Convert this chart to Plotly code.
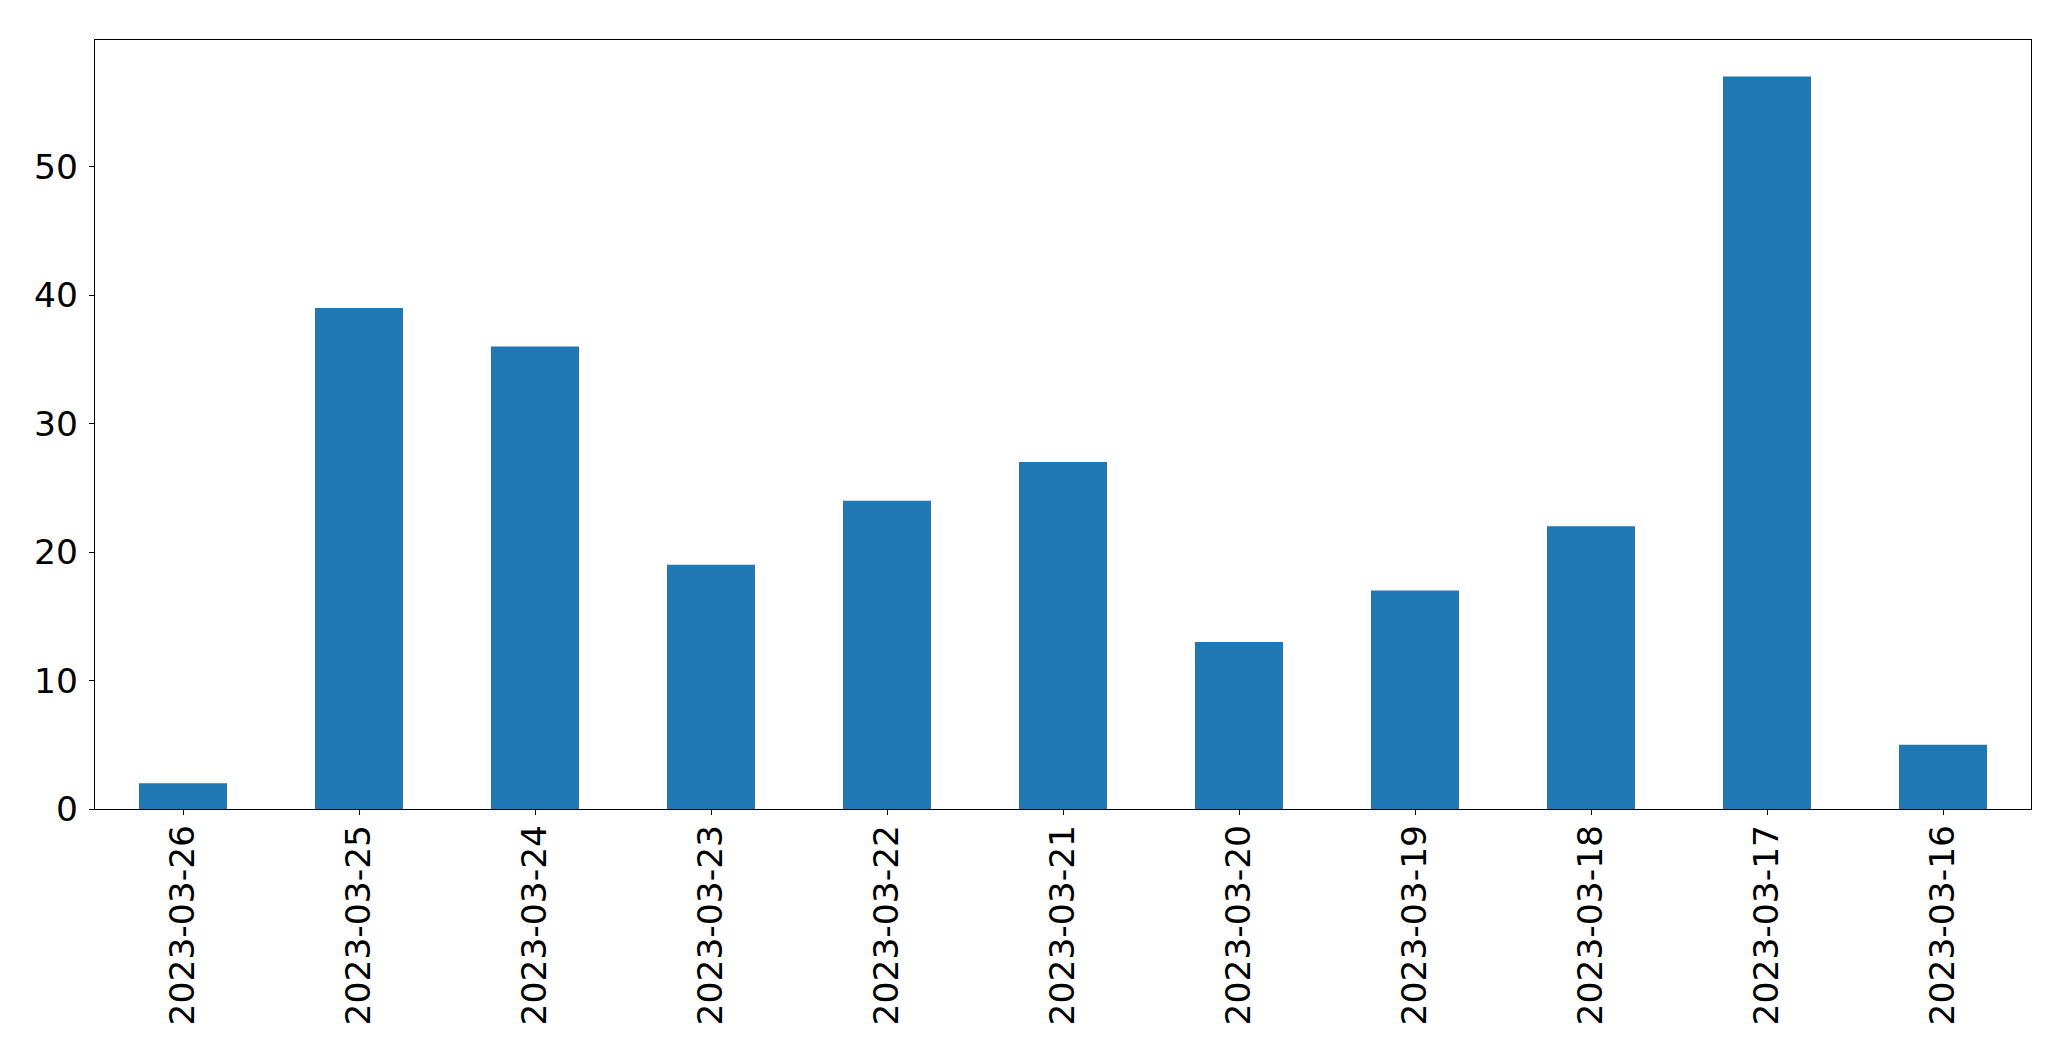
import plotly.graph_objects as go

dates = ["2023-03-26", "2023-03-25", "2023-03-24", "2023-03-23", "2023-03-22",
         "2023-03-21", "2023-03-20", "2023-03-19", "2023-03-18", "2023-03-17", "2023-03-16"]
counts = [2, 39, 36, 19, 24, 27, 13, 17, 22, 57, 5]
y_ticks = [0, 10, 20, 30, 40, 50]

fig = go.Figure(go.Bar(x=dates, y=counts, marker=dict(color="#1f77b4", line=dict(width=0)), width=0.5))

W, H = 2071, 1061
fig.update_layout(
    width=W, height=H,
    margin=dict(l=95, r=40, t=40, b=252),
    plot_bgcolor="white", paper_bgcolor="white",
    font=dict(family="DejaVu Sans", size=34.5, color="black"),
    showlegend=False, bargap=0.5,
)
fig.update_xaxes(
    type="category", range=[-0.5, 10.5],
    showline=True, mirror=True, linecolor="black", linewidth=1.3,
    ticks="outside", ticklen=5, tickwidth=1.3, tickcolor="black",
    tickangle=-90, showgrid=False, zeroline=False, ticklabelstandoff=-4,
)
fig.update_yaxes(
    range=[0, 59.85], tickvals=y_ticks,
    showline=True, mirror=True, linecolor="black", linewidth=1.3,
    ticks="outside", ticklen=5, tickwidth=1.3, tickcolor="black",
    showgrid=False, zeroline=False, ticklabelstandoff=4,
)
fig.write_html("out.html")
